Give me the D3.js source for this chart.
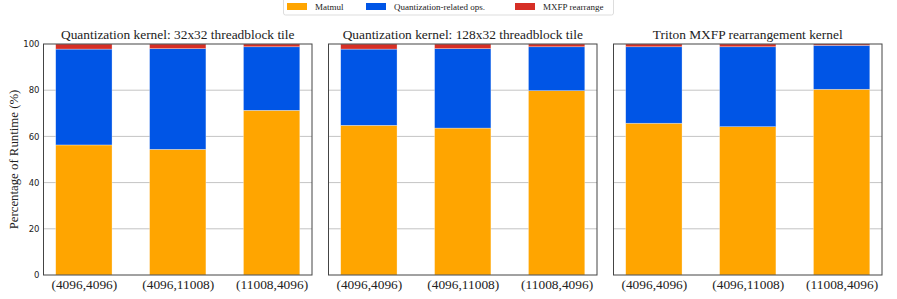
<!DOCTYPE html>
<html>
<head>
<meta charset="utf-8">
<script src="https://cdn.jsdelivr.net/npm/d3@7"></script>
<style>
  body { margin: 0; background: #fff; }
  svg text { fill: #222; }
  .serif { font-family: 'Liberation Serif', 'Times New Roman', 'DejaVu Serif', serif; }
  .sans { font-family: 'DejaVu Sans', sans-serif; }
</style>
</head>
<body>
<div id="chart"></div>
<script>
// Chart data
const categories = ['(4096,4096)', '(4096,11008)', '(11008,4096)'];
const panelTitles = [
  'Quantization kernel: 32x32 threadblock tile',
  'Quantization kernel: 128x32 threadblock tile',
  'Triton MXFP rearrangement kernel',
];
const seriesNames = ['Matmul', 'Quantization-related ops.', 'MXFP rearrange'];
const matmulValues = [
  [56.3, 54.4, 71.3],
  [64.8, 63.6, 79.8],
  [65.7, 64.2, 80.4],
];
const quantValues = [
  [41.5, 43.6, 27.5],
  [33.0, 34.4, 19.0],
  [33.1, 34.6, 19.0],
];
const mxfpValues = [
  [2.2, 2.0, 1.2],
  [2.2, 2.0, 1.2],
  [1.2, 1.2, 0.6],
];
const yTicks = [0, 20, 40, 60, 80, 100];

const width = 897;
const height = 299;
const COLORS = ['#ffa500', '#0055e6', '#d62f26'];

const svg = d3
  .select('#chart')
  .append('svg')
  .attr('width', width)
  .attr('height', height);

// Panel placement (left edges and shared size of each axes box)
const panelLefts = [43.5, 328.5, 613.5];
const panelWidth = 268.5;
const plotTop = 44;
const plotBottom = 275;

const yscale = d3.scaleLinear().domain([0, 100]).range([plotBottom, plotTop]);

panelLefts.forEach((left, p) => {
  const g = svg.append('g').attr('transform', `translate(${left},0)`);

  const xscale = d3
    .scaleLinear()
    .domain([-0.43, 2.43])
    .range([0, panelWidth]);

  // grid lines
  g.selectAll('.grid')
    .data(yTicks.filter((t) => t > 0 && t < 100))
    .enter()
    .append('line')
    .attr('x1', 0)
    .attr('x2', panelWidth)
    .attr('y1', (d) => yscale(d))
    .attr('y2', (d) => yscale(d))
    .attr('stroke', '#c4c4c4')
    .attr('stroke-width', 1);

  // stacked bars
  const rows = categories.map((c, i) => ({
    cat: i,
    values: [matmulValues[p][i], quantValues[p][i], mxfpValues[p][i]],
  }));
  const barW = xscale(0.6) - xscale(0);
  rows.forEach((row) => {
    let base = 0;
    row.values.forEach((v, s) => {
      g.append('rect')
        .attr('x', xscale(row.cat - 0.3))
        .attr('y', yscale(base + v))
        .attr('width', barW)
        .attr('height', yscale(base) - yscale(base + v))
        .attr('fill', COLORS[s])
        .attr('stroke', 'rgba(255,255,255,0.5)')
        .attr('stroke-width', 0.6);
      base += v;
    });
  });

  // frame
  g.append('rect')
    .attr('x', 0)
    .attr('y', plotTop)
    .attr('width', panelWidth)
    .attr('height', plotBottom - plotTop)
    .attr('fill', 'none')
    .attr('stroke', '#444')
    .attr('stroke-width', 1);

  // x axis labels
  const xAxis = d3
    .axisBottom(xscale)
    .tickValues([0, 1, 2])
    .tickFormat((i) => categories[i])
    .tickSize(0)
    .tickPadding(4);
  g.append('g')
    .attr('transform', `translate(0,${plotBottom})`)
    .call(xAxis)
    .call((a) => a.select('.domain').remove())
    .attr('font-family', null)
    .attr('font-size', null)
    .selectAll('text')
    .attr('class', 'serif')
    .style('font-size', '13.4px')
    .attr('fill', '#222');

  // y axis tick labels on first panel only
  if (p === 0) {
    const yAxis = d3.axisLeft(yscale).tickValues(yTicks).tickSize(0).tickPadding(4);
    g.append('g')
      .call(yAxis)
      .call((a) => a.select('.domain').remove())
      .attr('font-family', null)
      .attr('font-size', null)
      .selectAll('text')
      .attr('class', 'sans')
      .style('font-size', '8.5px')
      .attr('fill', '#222');
  }

  // panel title
  g.append('text')
    .attr('class', 'serif')
    .attr('x', panelWidth / 2)
    .attr('y', 39)
    .attr('text-anchor', 'middle')
    .style('font-size', '13.4px')
    .text(panelTitles[p]);
});

// y axis label
svg
  .append('text')
  .attr('class', 'serif')
  .attr('transform', `translate(18,${(plotTop + plotBottom) / 2}) rotate(-90)`)
  .attr('text-anchor', 'middle')
  .style('font-size', '12.8px')
  .text('Percentage of Runtime (%)');

// legend
const legend = svg.append('g').attr('id', 'legend');
legend
  .append('rect')
  .attr('x', 283.5)
  .attr('y', -4)
  .attr('width', 330)
  .attr('height', 19)
  .attr('rx', 2)
  .attr('fill', '#fff')
  .attr('stroke', '#ddd');
const legendX = [287, 366, 515];
seriesNames.forEach((name, i) => {
  legend
    .append('rect')
    .attr('x', legendX[i])
    .attr('y', 3)
    .attr('width', 20)
    .attr('height', 7)
    .attr('fill', COLORS[i]);
  legend
    .append('text')
    .attr('class', 'serif')
    .attr('x', legendX[i] + 28)
    .attr('y', 10)
    .style('font-size', '9px')
    .text(name);
});
</script>
</body>
</html>
